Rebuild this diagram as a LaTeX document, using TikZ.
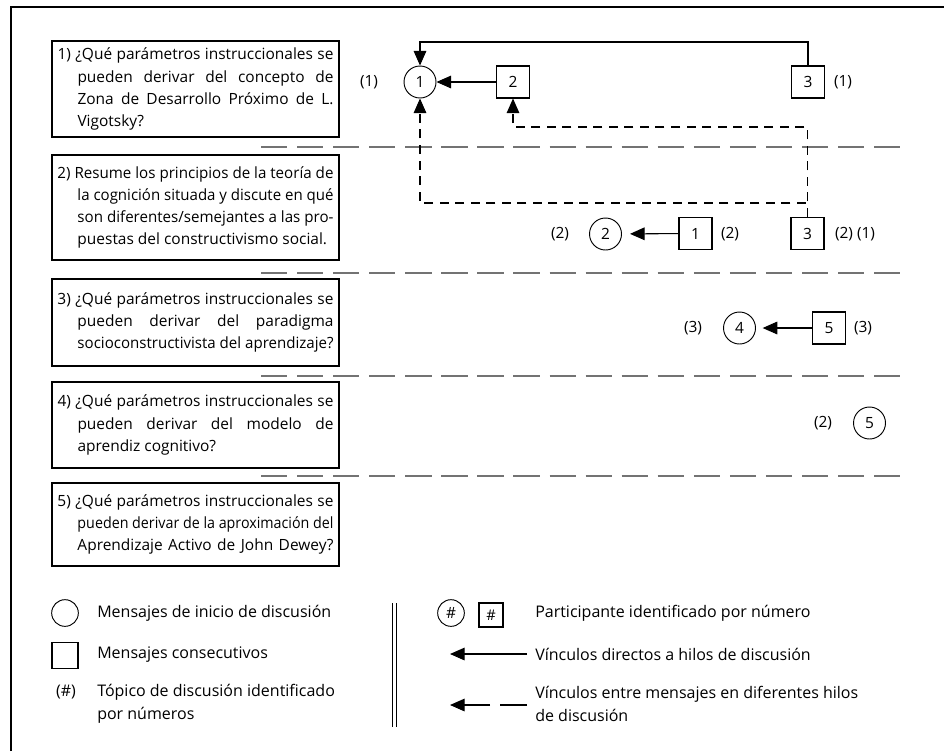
\documentclass[tikz,border=0pt]{standalone}
\usepackage{fontspec}
\setmainfont{Open Sans}
\usepackage{graphicx}
\usetikzlibrary{arrows.meta}
\newlength\qw \setlength\qw{207pt}
\newlength\qhang \setlength\qhang{15pt}
\newlength\qwi \setlength\qwi{192pt}
\newcommand\fitline[2]{\setbox0\hbox{#2}\ifdim\wd0>#1\relax\resizebox{#1}{\height}{#2}\else\makebox[#1][s]{#2}\fi}
\newcommand\qa[1]{\fitline{\qw}{#1}}
\newcommand\qb[1]{\hspace*{\qhang}\fitline{\qwi}{#1}}
\newcommand\qc[1]{\hspace*{\qhang}#1}
\begin{document}
\begin{tikzpicture}[x=0.75pt,y=-0.75pt,
  qbox/.style={draw, line width=0.8pt, minimum width=215.25pt, inner sep=0pt, align=left,
    font=\fontsize{11.6pt}{16.6pt}\selectfont},
  circ/.style={circle, draw, line width=0.7pt, minimum size=24pt, inner sep=0pt, font=\fontsize{11.6pt}{14pt}\selectfont},
  sq/.style={draw, line width=0.8pt, minimum width=24.75pt, minimum height=24pt, inner sep=0pt, font=\fontsize{11.6pt}{14pt}\selectfont},
  lab/.style={inner sep=0pt, font=\fontsize{11.6pt}{14pt}\selectfont},
  ltext/.style={anchor=west, inner sep=0pt, align=left, font=\fontsize{12pt}{17.2pt}\selectfont},
  arr/.style={line width=0.8pt, -{Triangle[length=11pt, width=9.5pt]}},
  sepline/.style={line width=0.9pt, black!55, dash pattern=on 19.7pt off 7.35pt},
  dlink/.style={dash pattern=on 6.75pt off 4.9pt}
]
\useasboundingbox (0,0) rectangle (944,751);
\draw[line width=1.1pt] (11,751) -- (11,7) -- (944,7);

% question boxes
\node[qbox, minimum height=72pt] (q1) at (195.5,89) {\qa{1) ¿Qué parámetros instruccionales se}\\\qb{pueden derivar del concepto de}\\\qb{Zona de Desarrollo Próximo de L.}\\\qc{Vigotsky?}};
\node[qbox, minimum height=78.75pt] (q2) at (195.5,207.5) {\qa{2) Resume los principios de la teoría de}\\\qb{la cognición situada y discute en qué}\\\qb{son diferentes/semejantes a las pro-}\\\qc{puestas del constructivismo social.}};
\node[qbox, minimum height=65.25pt] (q3) at (195.5,322.5) {\qa{3) ¿Qué parámetros instruccionales se}\\\qb{pueden derivar del paradigma}\\\qb{socioconstructivista del aprendizaje?}};
\node[qbox, minimum height=64.5pt] (q4) at (195.5,425) {\qa{4) ¿Qué parámetros instruccionales se}\\\qb{pueden derivar del modelo de}\\\qc{aprendiz cognitivo?}};
\node[qbox, minimum height=62.25pt] (q5) at (195.5,524.5) {\qa{5) ¿Qué parámetros instruccionales se}\\\qb{pueden derivar de la aproximación del}\\\qb{Aprendizaje Activo de John Dewey?}};

% separators
\draw[sepline] (261,147) -- (902,147);
\draw[sepline] (261,273) -- (902,273);
\draw[sepline] (261,376) -- (902,376);
\draw[sepline] (261,476) -- (902,476);

% row 1
\node[circ] (c1) at (420,82) {1};
\node[lab] (t11) at (369,82) {(1)};
\node[sq] (s2) at (513,82) {2};
\node[sq] (s3a) at (808,82) {3};
\node[lab] (t12) at (843,82) {(1)};
\coordinate (ytop) at (0,42);
\coordinate (ya) at (0,127);
\coordinate (yb) at (0,203);
\draw[arr] (s2) -- (c1);
\draw[arr] (s3a.north) |- (ytop -| c1) -- (c1.north);

% row 2
\node[circ] (c2) at (605.5,234) {2};
\node[lab] (t21) at (560,234) {(2)};
\node[sq] (s1) at (695.5,233.5) {1};
\node[lab] (t22) at (730,234) {(2)};
\node[sq] (s3b) at (807.5,233.5) {3};
\node[lab] (t23) at (855,234) {(2) (1)};
\draw[arr, shorten >=6pt] (s1) -- (c2);
\draw[arr, dlink] (s3b.north) -- (s3b.north |- ya) -| (s2.south);
\draw[arr, dlink] (s3b.north) -- (s3b.north |- yb) -| (c1.south);

% row 3
\node[circ] (c4) at (739.5,328) {4};
\node[lab] (t31) at (693,328) {(3)};
\node[sq] (s5) at (829,328) {5};
\node[lab] (t32) at (863,328) {(3)};
\draw[arr, shorten >=5pt] (s5) -- (c4);

% row 4
\node[circ] (c5) at (869.5,423) {5};
\node[lab] (t41) at (823,423) {(2)};

% legend
\node[circ, minimum size=20pt] (lc) at (65,613) {};
\node[ltext] (lct) at (97,613) {Mensajes de inicio de discusión};
\node[draw, line width=0.8pt, minimum width=19.5pt, minimum height=19pt, inner sep=0pt] (ls) at (65,655.5) {};
\node[ltext] (lst) at (97,655) {Mensajes consecutivos};
\node[lab, font=\fontsize{12pt}{14pt}\selectfont] (lt) at (66,692) {(\#)};
\node[ltext] (ltt) at (97,703.5) {Tópico de discusión identificado\\por números};

\draw[line width=0.7pt] (392,603) -- (392,727);
\draw[line width=0.7pt] (396,603) -- (396,727);

\node[circ, minimum size=20pt] (lc2) at (451,613) {\#};
\node[draw, line width=0.8pt, minimum size=18pt, inner sep=0pt, font=\fontsize{11pt}{13pt}\selectfont] (ls2) at (491,615) {\#};
\node[ltext] (lpt) at (535,613) {Participante identificado por número};
\coordinate (la1) at (527,654);
\coordinate (la2) at (450,654);
\draw[arr] (la1) -- (la2);
\node[ltext] (lat) at (535,654) {Vínculos directos a hilos de discusión};
\coordinate (lb1) at (527,705);
\coordinate (lb2) at (450,705);
\draw[arr, dash pattern=on 20.25pt off 7.5pt on 60pt] (lb1) -- (lb2);
\node[ltext] (lbt) at (535,704) {Vínculos entre mensajes en diferentes hilos\\de discusión};
\end{tikzpicture}
\end{document}
